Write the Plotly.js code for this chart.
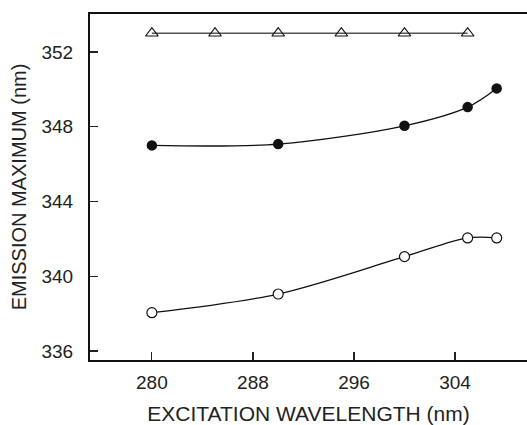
<!DOCTYPE html>
<html>
<head>
<meta charset="utf-8">
<script src="https://cdn.plot.ly/plotly-3.0.1.min.js"></script>
<style>html,body{margin:0;padding:0;background:#fff;}#chart{width:527px;height:425px;}</style>
</head>
<body>
<div id="chart"></div>
<script>
var triX = [280, 285, 290, 295, 300, 305];
var triY = [353, 353, 353, 353, 353, 353];
var filledX = [280, 290, 300, 305, 307.3];
var filledY = [347, 347.07, 348.05, 349.05, 350.05];
var openX = [280, 290, 300, 305, 307.3];
var openY = [338.05, 339.05, 341.05, 342.05, 342.05];
var xTicks = [280, 288, 296, 304];
var yTicks = [336, 340, 344, 348, 352];

var fam = 'Liberation Sans, Arial, sans-serif';
var tickFont = {family: fam, size: 19, color: '#222'};

var traces = [
  {x: triX, y: triY, mode: 'lines+markers', type: 'scatter',
   line: {color: '#555', width: 1.5},
   marker: {symbol: 'triangle-up-open', size: 11, color: '#111', line: {width: 1.2, color: '#111'}}},
  {x: filledX, y: filledY, mode: 'lines+markers', type: 'scatter',
   line: {color: '#111', width: 1.3, shape: 'spline', smoothing: 0.9},
   marker: {symbol: 'circle', size: 10.5, color: '#111'}},
  {x: openX, y: openY, mode: 'lines+markers', type: 'scatter',
   line: {color: '#111', width: 1.3, shape: 'spline', smoothing: 0.9},
   marker: {symbol: 'circle', size: 10, color: '#fff', line: {width: 1.2, color: '#111'}}}
];

var layout = {
  width: 527, height: 425,
  margin: {l: 90, r: 0, t: 14, b: 65},
  showlegend: false,
  paper_bgcolor: '#fff', plot_bgcolor: '#fff',
  font: tickFont,
  xaxis: {
    range: [275.1, 309.7], tickvals: xTicks, ticktext: xTicks.map(String),
    ticks: 'inside', ticklen: 8, tickwidth: 1.2, tickcolor: '#222',
    showline: true, linewidth: 2, linecolor: '#111', mirror: true,
    showgrid: false, zeroline: false,
    tickfont: tickFont, ticklabelstandoff: 4,
    title: {text: 'EXCITATION WAVELENGTH (nm)', font: {family: fam, size: 21, color: '#222'}, standoff: 16}
  },
  yaxis: {
    range: [335.52, 354.03], tickvals: yTicks, ticktext: yTicks.map(String),
    ticks: 'inside', ticklen: 8, tickwidth: 1.2, tickcolor: '#222',
    showline: true, linewidth: 2, linecolor: '#111',
    showgrid: false, zeroline: false,
    tickfont: tickFont, ticklabelstandoff: 11,
    title: {text: 'EMISSION MAXIMUM (nm)', font: {family: fam, size: 20, color: '#222'}, standoff: 9}
  }
};

Plotly.newPlot('chart', traces, layout, {displayModeBar: false, staticPlot: true});
</script>
</body>
</html>
